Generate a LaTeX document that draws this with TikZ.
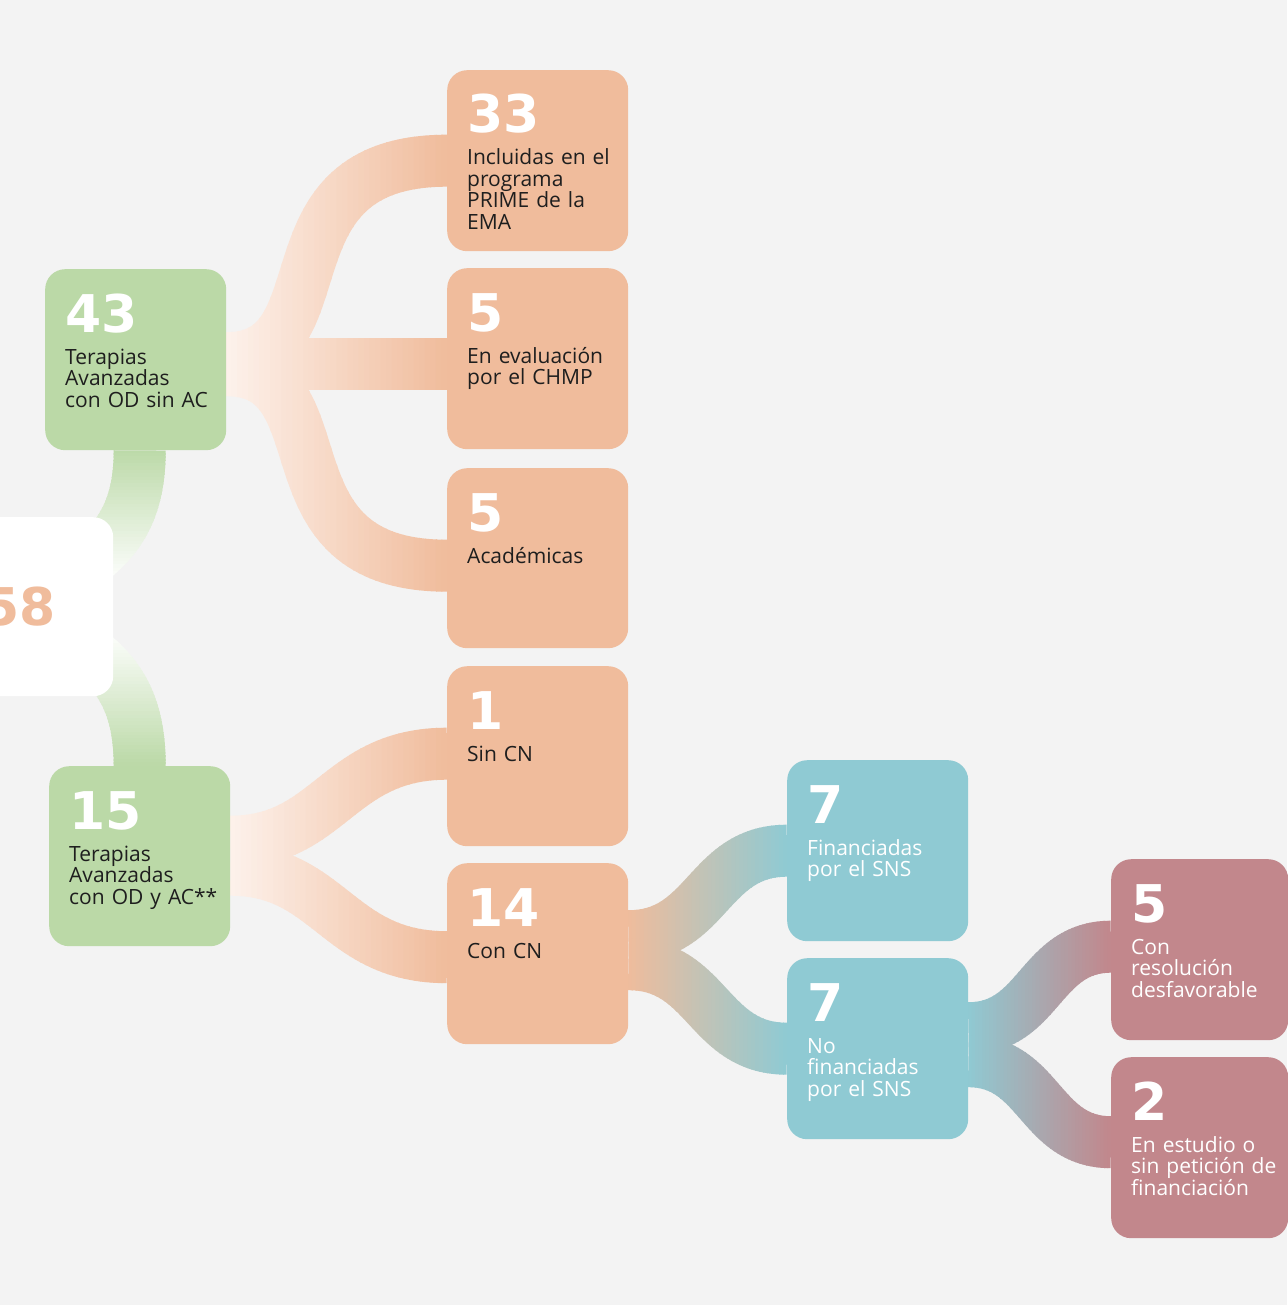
\documentclass[tikz,border=0pt]{standalone}
\usepackage{fontspec}
\setmainfont{Open Sans}
\newfontfamily\numfont{DejaVu Sans}
\definecolor{bg}{HTML}{F3F3F3}
\definecolor{cgreen}{HTML}{BBD9A7}
\definecolor{corange}{HTML}{F0BC9C}
\definecolor{cblue}{HTML}{8FCAD3}
\definecolor{cpink}{HTML}{C2878C}
\definecolor{cpeach}{HTML}{FDF2EC}
\definecolor{ctext}{HTML}{1E1E1E}
\pgfdeclarelayer{bgl}
\pgfdeclarelayer{bands}
\pgfsetlayers{bgl,bands,main}
\tikzset{
  box/.style={rounded corners=20pt, minimum width=181pt, minimum height=181pt, inner sep=0pt, anchor=north west},
  numtxt/.style={font=\numfont\bfseries\fontsize{52}{52}\selectfont, text=white, inner sep=0pt, anchor=base west},
  labtxt/.style={font=\fontsize{21}{21.5}\selectfont, inner sep=0pt, anchor=base west, align=left, text width=172pt},
  band/.style={line width=52pt},
}
% horizontal gradient band: x0, x1, colour at x0, colour at x1, path
\newcommand\hband[5]{%
  \foreach \k in {0,...,39}{%
    \pgfmathsetmacro\xa{#1+(#2-#1)*\k/40}%
    \pgfmathsetmacro\xb{#1+(#2-#1)*(\k+1)/40+0.8}%
    \pgfmathtruncatemacro\pc{100-100*(\k+0.5)/40}%
    \begin{scope}
      \clip (\xa,-10) rectangle (\xb,1320);
      \draw[band, draw=#3!\pc!#4] #5;
    \end{scope}}}
% vertical gradient band: y0, y1, colour at y0, colour at y1, path
\newcommand\vband[5]{%
  \foreach \k in {0,...,39}{%
    \pgfmathsetmacro\ya{#1+(#2-#1)*\k/40}%
    \pgfmathsetmacro\yb{#1+(#2-#1)*(\k+1)/40+0.8}%
    \pgfmathtruncatemacro\pc{100-100*(\k+0.5)/40}%
    \begin{scope}
      \clip (-10,\ya) rectangle (400,\yb);
      \draw[band, draw=#3!\pc!#4] #5;
    \end{scope}}}
% texts of a box: node name, number, label, label colour
\newcommand\boxtext[4]{%
  \node[numtxt] (#1-n) at ([xshift=20pt,yshift=-63pt]#1.north west) {#2};
  \node[labtxt, text=#4] (#1-l) at ([xshift=20pt,yshift=-95pt]#1.north west) {#3};}

\begin{document}
\begin{tikzpicture}[x=1pt,y=-1pt]
\useasboundingbox (0,0) rectangle (1287,1305);
\begin{pgfonlayer}{bgl}
  \fill[bg] (0,0) rectangle (1287,1305);
\end{pgfonlayer}

% boxes
\node[box, fill=white, minimum width=188pt, minimum height=179pt] (n58) at (-75,517)
  {\numfont\bfseries\fontsize{52}{52}\selectfont\color{corange}58};
\node[box, fill=cgreen] (n43) at (45,269) {};
\node[box, fill=cgreen, minimum height=180pt] (n15) at (49,766) {};
\node[box, fill=corange] (n33) at (447,70) {};
\node[box, fill=corange] (n5a) at (447,268) {};
\node[box, fill=corange, minimum height=180pt] (n5b) at (447,468) {};
\node[box, fill=corange, minimum height=180pt] (n1) at (447,666) {};
\node[box, fill=corange] (n14) at (447,863) {};
\node[box, fill=cblue] (n7a) at (787,760) {};
\node[box, fill=cblue] (n7b) at (787,958) {};
\node[box, fill=cpink, minimum width=177pt] (n5c) at (1111,859) {};
\node[box, fill=cpink, minimum width=177pt] (n2) at (1111,1057) {};

\coordinate (g1) at (60,580);
\coordinate (g2) at (60,633);

% connectors
\begin{pgfonlayer}{bands}
  % 58 -> 43 and 58 -> 15
  \vband{450}{585}{cgreen}{white}{([xshift=4pt]n43.south) .. controls +(0,65) and +(55,-30) .. (g1)}
  \vband{585}{610}{white}{white}{([xshift=4pt]n43.south) .. controls +(0,65) and +(55,-30) .. (g1)}
  \vband{600}{630}{white}{white}{(n15.north) .. controls +(0,-68) and +(55,30) .. (g2)}
  \vband{630}{766}{white}{cgreen}{(n15.north) .. controls +(0,-68) and +(55,30) .. (g2)}
  % 43 -> 33, 5, 5
  \hband{226}{447}{cpeach}{corange}{([yshift=1.5pt]n43.east) .. controls +(120,0) and +(-190,0) .. (n33.west)}
  \hband{226}{447}{cpeach}{corange}{([yshift=-4.5pt]n43.east) -- ([yshift=-4.5pt]n43.east -| n5a.west)}
  \hband{226}{447}{cpeach}{corange}{([yshift=-10.5pt]n43.east) .. controls +(120,0) and +(-190,0) .. ([yshift=-7.5pt]n5b.west)}
  % 15 -> 1, 14
  \hband{230}{447}{cpeach}{corange}{([yshift=14.5pt]n15.east) .. controls +(100,0) and +(-110,0) .. ([yshift=2.5pt]n1.west)}
  \hband{230}{447}{cpeach}{corange}{([yshift=-13.5pt]n15.east) .. controls +(100,0) and +(-110,0) .. ([yshift=-3.5pt]n14.west)}
  % 14 -> 7, 7
  \hband{628}{787}{corange}{cblue}{([yshift=17.5pt]n14.east) .. controls +(80,0) and +(-80,0) .. (n7a.west)}
  \hband{628}{787}{corange}{cblue}{([yshift=-10.5pt]n14.east) .. controls +(80,0) and +(-80,0) .. (n7b.west)}
  % 7 -> 5, 2
  \hband{968}{1111}{cblue}{cpink}{([yshift=20.5pt]n7b.east) .. controls +(72,0) and +(-72,0) .. ([yshift=3pt]n5c.west)}
  \hband{968}{1111}{cblue}{cpink}{([yshift=-12.5pt]n7b.east) .. controls +(72,0) and +(-72,0) .. ([yshift=5.5pt]n2.west)}
\end{pgfonlayer}

% texts
\boxtext{n43}{43}{Terapias\\Avanzadas\\con OD sin AC}{ctext}
\boxtext{n15}{15}{Terapias\\Avanzadas\\con OD y AC**}{ctext}
\boxtext{n33}{33}{Incluidas en el\\programa\\PRIME de la\\EMA}{ctext}
\boxtext{n5a}{5}{En evaluación\\por el CHMP}{ctext}
\boxtext{n5b}{5}{Académicas}{ctext}
\boxtext{n1}{1}{Sin CN}{ctext}
\boxtext{n14}{14}{Con CN}{ctext}
\boxtext{n7a}{7}{Financiadas\\por el SNS}{white}
\boxtext{n7b}{7}{No\\financiadas\\por el SNS}{white}
\boxtext{n5c}{5}{Con\\resolución\\desfavorable}{white}
\boxtext{n2}{2}{En estudio o\\sin petición de\\financiación}{white}
\end{tikzpicture}
\end{document}
